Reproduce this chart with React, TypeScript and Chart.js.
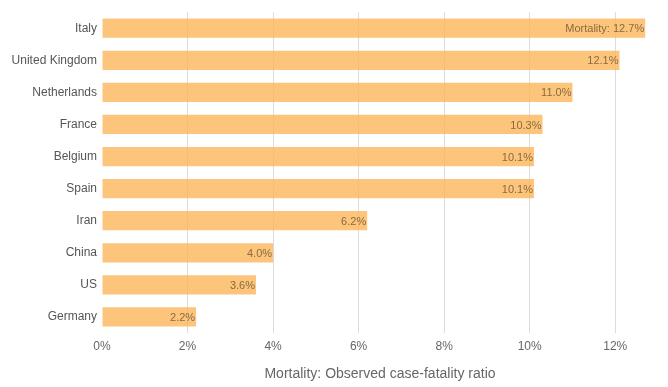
import React, { useEffect, useRef } from "react";
import { Chart, registerables } from "chart.js";

Chart.register(...registerables);

const countries = ["Italy", "United Kingdom", "Netherlands", "France", "Belgium", "Spain", "Iran", "China", "US", "Germany"];
const mortality = [12.7, 12.1, 11.0, 10.3, 10.1, 10.1, 6.2, 4.0, 3.6, 2.2];
const axisTitle = "Mortality: Observed case-fatality ratio";
const firstLabelPrefix = "Mortality: ";

const FONT = "'Liberation Sans', Arial, sans-serif";

const valueLabels = {
  id: "valueLabels",
  afterDatasetsDraw(chart: any) {
    const ctx = chart.ctx;
    const meta = chart.getDatasetMeta(0);
    ctx.save();
    ctx.font = `11px ${FONT}`;
    ctx.fillStyle = "#8a6a40";
    ctx.textAlign = "right";
    ctx.textBaseline = "middle";
    meta.data.forEach((bar: any, i: number) => {
      const v = mortality[i];
      const txt = (i === 0 ? firstLabelPrefix : "") + v.toFixed(1) + "%";
      ctx.fillText(txt, bar.x - 1, bar.y + 1);
    });
    ctx.restore();
  },
};

export default function App() {
  const ref = useRef<HTMLCanvasElement | null>(null);
  useEffect(() => {
    document.body.style.margin = "0";
    const chart = new Chart(ref.current as HTMLCanvasElement, {
      type: "bar",
      data: {
        labels: countries,
        datasets: [
          {
            data: mortality,
            backgroundColor: "rgba(252,182,90,0.8)",
            borderWidth: 0,
            barPercentage: 0.6,
            categoryPercentage: 1,
          },
        ],
      },
      options: {
        indexAxis: "y",
        animation: false,
        responsive: false,
        maintainAspectRatio: false,
        layout: { padding: { top: 10, right: 10, bottom: 0, left: 0 } },
        plugins: { legend: { display: false }, tooltip: { enabled: false } },
        scales: {
          x: {
            min: 0,
            max: 13,
            afterFit: (s: any) => {
              s.height = 54;
            },
            border: { display: false },
            grid: {
              drawTicks: false,
              color: (c: any) => (c.tick && (c.tick.value === 0 || c.tick.value === 13) ? "rgba(0,0,0,0)" : "#dcdcdc"),
              lineWidth: 1,
            },
            ticks: {
              stepSize: 2,
              padding: 6,
              color: "#666",
              font: { family: FONT, size: 12 },
              callback: (v: any) => (v === 13 ? "" : v + "%"),
            },
            title: {
              display: true,
              text: axisTitle,
              color: "#666",
              font: { family: FONT, size: 14 },
              padding: { top: 0, bottom: 4 },
            },
          },
          y: {
            afterFit: (s: any) => {
              s.width = 102;
            },
            border: { display: false },
            grid: { display: false, drawTicks: false },
            ticks: {
              padding: 5,
              color: "#555",
              font: { family: FONT, size: 12 },
            },
          },
        },
      },
      plugins: [valueLabels],
    });
    return () => chart.destroy();
  }, []);
  return (
    <div style={{ position: "relative", width: 668, height: 387 }}>
      <canvas ref={ref} width={668} height={387} style={{ width: 668, height: 387, display: "block" }} />
    </div>
  );
}
